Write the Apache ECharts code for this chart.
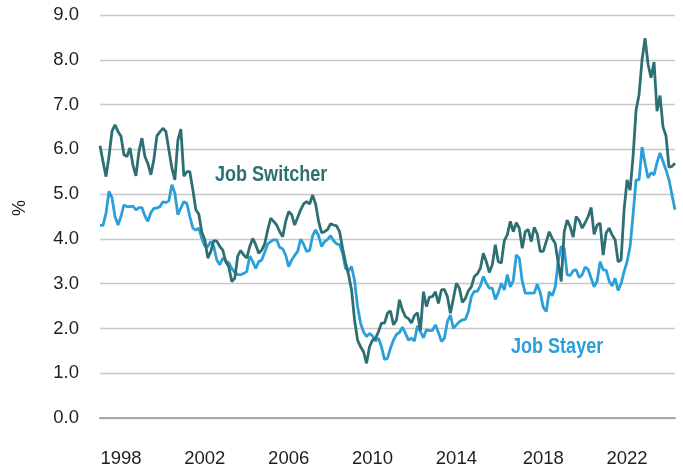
<!DOCTYPE html>
<html>
<head>
<meta charset="utf-8">
<script src="https://cdn.jsdelivr.net/npm/echarts@6/dist/echarts.min.js"></script>
<style>
  html, body { margin: 0; padding: 0; background: #fff; }
  #myChart { width: 683px; height: 472px; }
</style>
</head>
<body>
<div id="myChart"></div>
<script>
// 工资增长 (%)，约每1.7个月一个点，1997年初 - 2024年
var switcher = [
  6.08, 5.73, 5.39, 5.84, 6.40, 6.55, 6.40, 6.29, 5.88, 5.84,
  6.03, 5.65, 5.41, 5.95, 6.25, 5.84, 5.68, 5.43, 5.78, 6.30,
  6.39, 6.47, 6.40, 5.99, 5.58, 5.32, 6.20, 6.45, 5.40, 5.50,
  5.50, 5.10, 4.65, 4.55, 4.15, 3.98, 3.57, 3.72, 3.96, 3.95,
  3.83, 3.75, 3.49, 3.38, 3.05, 3.12, 3.62, 3.74, 3.64, 3.57,
  3.83, 4.01, 3.87, 3.68, 3.75, 3.89, 4.20, 4.46, 4.39, 4.31,
  4.16, 4.05, 4.39, 4.61, 4.54, 4.31, 4.48, 4.65, 4.78, 4.83,
  4.78, 4.98, 4.78, 4.39, 4.14, 4.16, 4.21, 4.34, 4.31, 4.29,
  4.16, 3.79, 3.47, 3.20, 2.86, 2.19, 1.74, 1.59, 1.48, 1.22,
  1.59, 1.74, 1.78, 1.93, 2.12, 2.12, 2.34, 2.39, 2.08, 2.19,
  2.64, 2.41, 2.26, 2.22, 2.12, 2.29, 2.35, 1.95, 2.82, 2.49,
  2.70, 2.71, 2.82, 2.56, 2.86, 2.87, 2.71, 2.34, 2.67, 3.01,
  2.90, 2.58, 2.67, 2.84, 2.93, 3.16, 3.22, 3.34, 3.68, 3.49,
  3.25, 3.42, 3.87, 3.49, 3.46, 3.96, 4.09, 4.39, 4.16, 4.36,
  4.24, 3.79, 4.16, 4.21, 3.94, 4.26, 4.11, 3.72, 3.72, 3.94,
  4.16, 4.01, 3.90, 3.46, 3.05, 4.16, 4.42, 4.27, 4.04, 4.50,
  4.41, 4.24, 4.36, 4.50, 4.70, 4.10, 4.31, 4.35, 3.64, 4.13,
  4.24, 4.09, 3.98, 3.49, 3.53, 4.65, 5.32, 5.09, 5.84, 6.88,
  7.22, 8.00, 8.48, 7.90, 7.60, 7.95, 6.85, 7.20, 6.50, 6.30,
  5.60, 5.62, 5.69
];
var stayer = [
  4.30, 4.30, 4.57, 5.06, 4.92, 4.50, 4.31, 4.50, 4.76, 4.72,
  4.72, 4.73, 4.65, 4.70, 4.70, 4.51, 4.39, 4.59, 4.68, 4.69,
  4.72, 4.83, 4.81, 4.85, 5.21, 5.02, 4.54, 4.69, 4.83, 4.79,
  4.50, 4.24, 4.20, 4.24, 4.01, 3.84, 3.83, 3.94, 3.83, 3.53,
  3.42, 3.57, 3.51, 3.47, 3.34, 3.25, 3.20, 3.20, 3.23, 3.27,
  3.62, 3.49, 3.34, 3.49, 3.53, 3.70, 3.89, 3.94, 3.98, 3.98,
  3.81, 3.78, 3.64, 3.38, 3.53, 3.63, 3.72, 3.99, 3.88, 3.72,
  3.74, 4.07, 4.20, 4.07, 3.83, 3.94, 3.99, 4.07, 3.96, 3.89,
  3.87, 3.68, 3.34, 3.29, 3.38, 3.07, 2.49, 2.12, 1.92, 1.82,
  1.89, 1.83, 1.72, 1.78, 1.59, 1.31, 1.33, 1.56, 1.74, 1.87,
  1.91, 2.03, 1.89, 1.74, 1.78, 1.72, 2.06, 1.93, 1.79, 1.97,
  1.95, 1.95, 2.08, 1.91, 1.71, 1.78, 2.15, 2.30, 2.00, 2.08,
  2.15, 2.19, 2.20, 2.38, 2.71, 2.83, 2.83, 2.95, 3.16, 3.01,
  2.90, 2.90, 2.65, 2.80, 3.01, 2.86, 3.20, 2.93, 3.07, 3.64,
  3.57, 3.05, 2.79, 2.79, 2.79, 2.79, 2.99, 2.80, 2.47, 2.38,
  2.82, 2.73, 2.92, 3.49, 3.83, 3.79, 3.20, 3.18, 3.29, 3.31,
  3.14, 3.20, 3.37, 3.32, 3.12, 2.93, 3.06, 3.49, 3.31, 3.30,
  3.06, 2.95, 3.12, 2.85, 3.00, 3.27, 3.49, 3.83, 4.54, 5.32,
  5.32, 6.05, 5.69, 5.36, 5.48, 5.43, 5.71, 5.92, 5.73, 5.54,
  5.32, 4.98, 4.65
];
// x轴年份标签及其所在的点
var yearLabels = ['1998', '2002', '2006', '2010', '2014', '2018', '2022'];
var yearIndex = [7, 35, 63, 91, 119, 148, 176];

var categories = switcher.map(function (v, i) { return String(i); });

var font = "'Liberation Sans', Arial, sans-serif";

var myChart = echarts.init(document.getElementById('myChart'));
myChart.setOption({
  animation: false,
  grid: { left: 100, right: 8, top: 15, bottom: 54 },
  xAxis: {
    type: 'category',
    data: categories,
    boundaryGap: false,
    axisTick: { show: false },
    axisLine: { lineStyle: { color: '#a8a8a8', width: 2 } },
    axisLabel: {
      margin: 31,
      fontSize: 18.5,
      fontFamily: font,
      color: '#1e1e1e',
      interval: function (i) { return yearIndex.indexOf(i) >= 0; },
      formatter: function (v, i) { return yearLabels[yearIndex.indexOf(i)]; }
    }
  },
  yAxis: {
    type: 'value',
    min: 0,
    max: 9,
    interval: 1,
    axisLine: { show: false },
    axisTick: { show: false },
    axisLabel: {
      margin: 21,
      fontSize: 18.5,
      fontFamily: font,
      color: '#1e1e1e',
      formatter: function (v) { return v.toFixed(1); }
    },
    splitLine: { lineStyle: { color: '#c8c8c8', width: 1.3 } }
  },
  graphic: [
    {
      type: 'text', x: 20, y: 208, rotation: Math.PI / 2,
      style: { text: '%', fill: '#1e1e1e', font: '18px ' + font, align: 'center', verticalAlign: 'middle' }
    },
    // 标注文字，横向压缩模拟窄体字
    {
      type: 'text', x: 215, y: 175, scaleX: 0.82,
      style: { text: 'Job Switcher', fill: '#2e6f74', font: 'bold 22px ' + font, verticalAlign: 'middle' }
    },
    {
      type: 'text', x: 511, y: 347, scaleX: 0.82,
      style: { text: 'Job Stayer', fill: '#2a9fd9', font: 'bold 22px ' + font, verticalAlign: 'middle' }
    }
  ],
  series: [
    {
      name: 'Job Stayer',
      type: 'line',
      data: stayer,
      showSymbol: false,
      lineStyle: { color: '#2a9fd9', width: 2.8 },
      itemStyle: { color: '#2a9fd9' }
    },
    {
      name: 'Job Switcher',
      type: 'line',
      data: switcher,
      showSymbol: false,
      lineStyle: { color: '#2e6f74', width: 2.8 },
      itemStyle: { color: '#2e6f74' }
    }
  ]
});
</script>
</body>
</html>
